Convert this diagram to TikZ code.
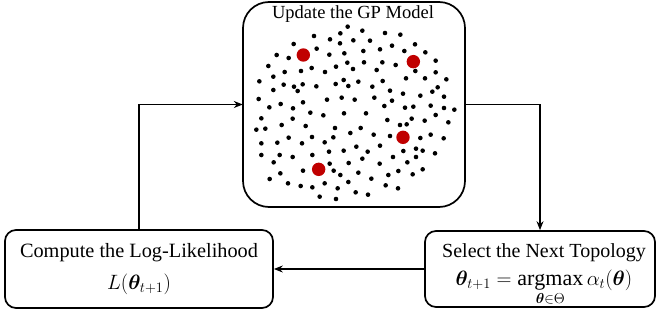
\documentclass[tikz,border=0pt]{standalone}
\usepackage{amsmath}
\usepackage{bm}
\usepackage{fontspec}
\setmainfont{Liberation Serif}
\usetikzlibrary{arrows.meta}
\definecolor{sampred}{RGB}{192,0,0}
\newcommand{\mathsz}{\fontsize{22}{26}\selectfont}
\tikzset{
  stagebox/.style={draw, line width=1.7pt, rounded corners=11pt, fill=white},
  flow/.style={line width=1.1pt, -{Stealth[length=9pt,width=7pt]}},
}
\begin{document}
\begin{tikzpicture}[x=1pt,y=-1pt]
\useasboundingbox (0,0) rectangle (658,320);

% stages of the loop
\draw[stagebox, rounded corners=26pt] (243,2) rectangle (465,207);
\node[font=\fontsize{18.5}{20}\selectfont] (title) at (353,14) {Update the GP Model};
\node (top) [minimum width=222pt, minimum height=205pt, inner sep=0pt] at (354,104.5) {};

\node (lbox) [stagebox, minimum width=268pt, minimum height=78pt, align=center,
  font=\fontsize{20.3}{32}\selectfont] at (139,269)
  {Compute the Log-Likelihood\\ {\mathsz$L(\bm{\theta}_{t+1})$}};

\node (rbox) [stagebox, minimum width=230pt, minimum height=76pt] at (540,269) {};
\node (rtext) [align=center, font=\fontsize{20}{26}\selectfont] at (544,275)
  {Select the Next Topology\\[2pt] {\mathsz$\bm{\theta}_{t+1} = \operatorname*{argmax}\limits_{\bm{\theta}\in\Theta}\alpha_t(\bm{\theta})$}};

% observed candidates
\foreach \x/\y in {
323/80,367/92,301/100,435/99,481/104,222/108,
270/118,340/121,390/122,300/130,161/132,525/133,456/137,
230/146,420/148,493/153,370/153,556/157,313/160,268/164,110/165,
146/174,587/182,372/187,427/187,322/188,467/195,85/198,288/200,215/204,
183/213,410/210,134/216,255/216,339/207,526/213,587/217,100/230,498/235,555/235,619/238,
58/244,311/240,428/243,131/254,355/245,188/253,162/260,229/259,287/252,325/258,397/260,593/262,450/272,
100/270,173/273,489/281,541/287,577/275,612/290,56/297,189/307,261/299,305/293,344/299,403/293,456/302,
88/322,122/312,159/325,211/338,433/318,495/323,520/320,572/317,612/324,643/329,378/340,250/346,312/340,
64/355,158/356,515/356,554/362,587/345,442/360,625/367,125/375,197/378,285/384,362/384,480/375,500/373,
49/389,76/386,331/399,401/404,450/408,541/414,572/404,611/415,146/413,216/411,280/412,112/428,186/430,
64/430,254/427,420/437,349/440,311/452,383/455,490/453,528/446,548/452,267/455,585/460,
64/465,119/465,158/471,217/465,459/471,528/471,367/476,326/489,101/487,269/491,419/491,502/487,
189/512,281/512,301/525,394/536,445/525,475/513,518/523,548/508,121/520,89/537,355/518,
144/550,182/558,217/562,254/550,325/546,437/556,474/565,293/565,347/577,384/584,239/590,288/597}
  \fill ({240+\x/3},{\y/3}) circle[radius=2.3];

% selected topologies
\foreach \x/\y in {190/165,520/185,489/412,236/508}
  \fill[sampred] ({240+\x/3},{\y/3}) circle[radius=6.7];

% loop connectors
\draw[flow] (lbox.north) |- (top.west);
\draw[flow] (top.east) -| (rbox.north);
\draw[flow] (rbox.west) -- (lbox.east);
\end{tikzpicture}
\end{document}
